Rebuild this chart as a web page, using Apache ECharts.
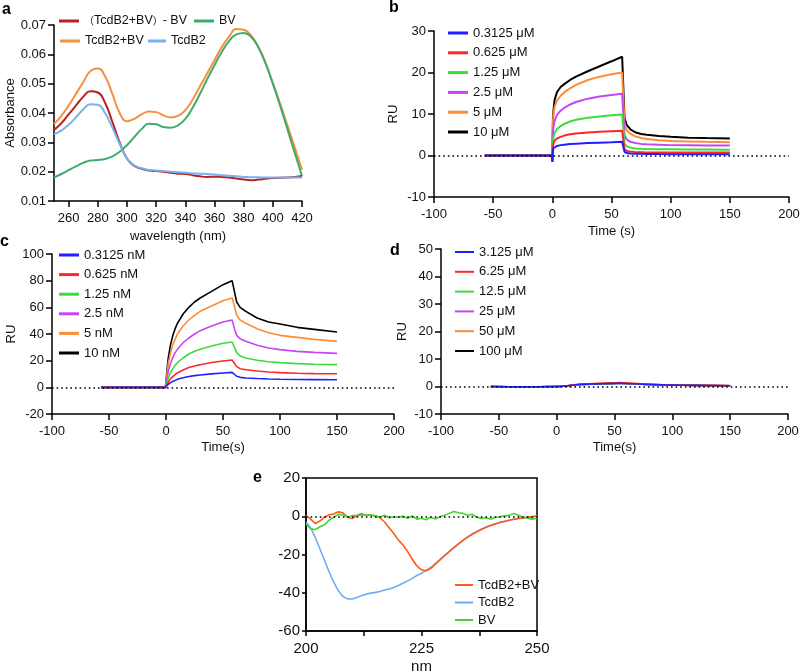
<!DOCTYPE html>
<html>
<head>
<meta charset="utf-8">
<script src="https://cdn.jsdelivr.net/npm/echarts@6/dist/echarts.min.js"></script>
<style>
    html, body { margin: 0; background: #fff; }
    #chart { width: 800px; height: 672px; }
</style>
</head>
<body>
<div id="chart"></div>
<script>
    // ---- panel a : absorbance spectra ----
    var aNm = [250,255,260,265,270,275,280,285,290,295,300,305,310,315,320,325,330,335,340,345,350,355,360,365,370,375,380,385,390,395,400,405,410,415,420];
    var aDiff = [0.0342,0.0365,0.0395,0.0425,0.0455,0.0474,0.0470,0.0435,0.0370,0.0300,0.0245,0.0220,0.0210,0.0204,0.0202,0.0200,0.0196,0.0193,0.0192,0.0188,0.0184,0.0182,0.0183,0.0182,0.0180,0.0177,0.0173,0.0171,0.0173,0.0176,0.0178,0.0179,0.0180,0.0182,0.0185];
    var aBV = [0.0180,0.0192,0.0205,0.0218,0.0230,0.0238,0.0240,0.0243,0.0252,0.0268,0.0290,0.0318,0.0345,0.0363,0.0362,0.0352,0.0350,0.0358,0.0380,0.0418,0.0465,0.0515,0.0563,0.0608,0.0645,0.0668,0.0673,0.0660,0.0625,0.0570,0.0500,0.0425,0.0345,0.0265,0.0185];
    var aMix = [0.0362,0.0390,0.0425,0.0465,0.0505,0.0543,0.0552,0.0525,0.0465,0.0400,0.0372,0.0380,0.0395,0.0405,0.0403,0.0392,0.0385,0.0390,0.0410,0.0445,0.0490,0.0535,0.0580,0.0625,0.0660,0.0686,0.0684,0.0665,0.0625,0.0570,0.0502,0.0432,0.0358,0.0283,0.0207];
    var aTcdB2 = [0.0328,0.0340,0.0360,0.0385,0.0412,0.0430,0.0428,0.0400,0.0350,0.0295,0.0245,0.0222,0.0212,0.0206,0.0204,0.0202,0.0200,0.0198,0.0196,0.0194,0.0193,0.0192,0.0190,0.0188,0.0186,0.0184,0.0182,0.0181,0.0181,0.0180,0.0180,0.0180,0.0180,0.0180,0.0180];
    var aTicks = [260,280,300,320,340,360,380,400,420];

    // ---- panel b : SPR, µM ----
    var bTime = [-57,-0.5,0,0.5,1,2,4,7,10,15,20,30,40,50,59,60,61,63,66,70,75,80,90,100,115,130,150];
    var b10  = [0,0,-1.5,9,11,13.5,15.3,16.5,17.2,18.2,19,20.3,21.5,22.7,23.8,23.8,9,7.3,6.3,5.6,5.2,5,4.7,4.5,4.3,4.2,4.1];
    var b5   = [0,0,-1.5,8,10,11.8,13.3,14.4,15.2,16.2,17,18.2,19,19.6,20,20,7.5,6,5.2,4.6,4.2,4,3.7,3.5,3.4,3.3,3.2];
    var b25  = [0,0,-1.5,5.5,7,8.5,9.8,10.8,11.5,12.3,12.9,13.7,14.2,14.6,14.9,14.9,4.8,3.8,3.3,3,2.8,2.7,2.6,2.5,2.45,2.4,2.4];
    var b125 = [0,0,-1.5,3.5,4.5,5.5,6.4,7.1,7.6,8.2,8.6,9.1,9.4,9.7,9.9,9.9,2.8,2.2,1.9,1.7,1.6,1.55,1.5,1.5,1.45,1.45,1.4];
    var b0625 = [0,0,-1.5,2.2,3,3.6,4.1,4.5,4.8,5.1,5.3,5.55,5.7,5.85,5.95,5.95,1.5,1.1,0.95,0.85,0.8,0.75,0.72,0.7,0.7,0.7,0.7];
    var b03125 = [0,0,-1.5,1.2,1.8,2.1,2.3,2.5,2.6,2.75,2.85,3,3.1,3.2,3.3,3.3,0.9,0.6,0.5,0.45,0.4,0.38,0.35,0.33,0.32,0.3,0.3];
    var bNames = ['0.3125 μM','0.625 μM','1.25 μM','2.5 μM','5 μM','10 μM'];

    // ---- panel c : SPR, nM ----
    var cTime = [-57,-0.5,0,1,2,4,6,8,10,15,20,25,30,40,50,58,59,60,62,65,70,80,90,100,115,130,150];
    var c10  = [0,0,-0.5,14,22,32,39,44,48,55,60,64,67,72,77,80,80.5,72,64,60,57,52,49,47.5,45,43.5,41.5];
    var c5   = [0,0,-0.5,11,18,26,32,36,40,46,50.5,54,57,61,65,67,67.5,61,54,50.5,48,44,41,39,37.5,36,34.5];
    var c25  = [0,0,-0.5,7,12,18,22.5,26,28.5,33.5,37,40,42.5,46,49,50.5,50.5,44,39,36.5,34.5,31.5,29.5,28.3,27,26.2,25.5];
    var c125 = [0,0,-0.5,4,7,11,14,16.5,18.5,22,25,27,28.5,31,33,34,34,30,26,23.5,22,20.3,19.2,18.5,17.8,17.3,17];
    var c0625 = [0,0,-0.5,2.5,4,6.5,8,9.5,10.8,13,14.8,16,17,18.6,19.8,20.5,20.5,18,15.5,14,13.2,12.2,11.5,11,10.6,10.3,10.2];
    var c03125 = [0,0,-0.5,1.5,2.3,3.5,4.5,5.2,6,7.2,8.1,8.8,9.3,10.1,10.7,11.2,11.2,9.8,8.3,7.5,7,6.6,6.3,6.1,5.9,5.8,5.7];
    var cNames = ['0.3125 nM','0.625 nM','1.25 nM','2.5 nM','5 nM','10 nM'];

    // ---- panel d : SPR, no binding ----
    var dTime = [-57,-30,0,5,10,20,30,40,50,55,60,70,80,90,100,120,150];
    var d100 = [0,-0.1,0,0.1,0.3,0.7,0.95,1.05,1.15,1.2,1.15,0.95,0.75,0.6,0.5,0.4,0.3];
    var d50  = [0,-0.1,0,0.1,0.3,0.7,0.95,1.05,1.15,1.2,1.15,0.95,0.75,0.6,0.5,0.4,0.3];
    var d25  = [0,-0.1,0,0.1,0.3,0.7,0.9,1.0,1.1,1.15,1.1,0.9,0.7,0.6,0.5,0.4,0.3];
    var d125 = [0,-0.1,0,0.1,0.3,0.7,0.9,1.0,1.1,1.15,1.1,0.9,0.7,0.6,0.5,0.4,0.3];
    var d625 = [0,-0.1,0,0.1,0.35,0.8,1.05,1.2,1.35,1.4,1.3,1.05,0.8,0.65,0.55,0.45,0.35];
    var d3125 = [0,-0.1,0,0.1,0.3,0.7,0.9,1.0,1.1,1.15,1.1,0.9,0.7,0.6,0.5,0.4,0.3];
    var dNames = ['3.125 μM','6.25 μM','12.5 μM','25 μM','50 μM','100 μM'];

    // ---- panel e : CD spectra ----
    var eNm = [200,201,202,203,204,205,206,207,208,209,210,211,212,213,214,215,216,217,218,219,220,221,222,223,224,225,226,227,228,229,230,231,232,233,234,235,236,237,238,239,240,241,242,243,244,245,246,247,248,249,250];
    var eMix = [0.5,-1.5,-3.8,-2.5,-0.5,0.8,1.2,2.3,1.8,-0.5,-1.2,0.3,0.8,0.5,0.7,0.2,-0.8,-3,-6,-9,-12.5,-15,-18.5,-22.5,-26,-28,-28.5,-27.3,-25,-22.8,-20.6,-18.5,-16.4,-14.4,-12.6,-10.9,-9.4,-8.1,-6.9,-5.8,-4.9,-4,-3.3,-2.7,-2.1,-1.6,-1.2,-0.8,-0.5,-0.2,0.1];
    var eTcdB2 = [-3,-6,-11,-17,-23,-29,-34.5,-39,-42,-43.2,-43.3,-42.5,-41.5,-40.8,-40.2,-39.8,-39.3,-38.6,-38,-37.2,-36.2,-35,-33.8,-32.5,-31,-29.8,-28.3,-26.8,-24.8,-22.7,-20.6,-18.5,-16.4,-14.4,-12.5,-10.8,-9.2,-7.9,-6.7,-5.6,-4.7,-3.9,-3.2,-2.6,-2.1,-1.6,-1.2,-0.9,-0.6,-0.3,0];
    var eBV = [-4,-6.5,-7,-5.5,-4.5,-2,-0.5,1,0.8,-0.5,0.3,0.5,1.5,0.5,0.8,0.2,-0.5,0.5,-0.8,-0.3,-0.5,0,-1,0.2,-1.5,-1,-1.8,-0.5,-1.5,-0.3,0.5,1.5,2.5,1.8,1.5,0.5,1,-0.5,-1.2,-0.8,-1.5,-0.5,-0.3,0.2,0.5,1.5,0.5,-0.5,-1,-1.5,-1];
    var eXTicks = [200,212.5,225,237.5,250];
    var eXLabels = [200,225,250];

    var FONT = 'Liberation Sans, Arial, Noto Sans CJK SC, sans-serif';
    var sprColors = ['#1f1fff','#ff2626','#3cdc3c','#c646f5','#ff8c33','#000000'];
    var eColors = {'TcdB2+BV ': '#ff5a1a', 'TcdB2 ': '#6fadf2', 'BV ': '#44d42e'};

    var myChart = echarts.init(document.getElementById('chart'));

    function pairs(xs, ys) {
        return xs.map(function (x, i) { return [x, ys[i]]; });
    }

    function line(name, xs, ys, color, idx, width, smooth) {
        return {
            name: name, type: 'line', xAxisIndex: idx, yAxisIndex: idx,
            data: pairs(xs, ys), showSymbol: false, symbol: 'none',
            smooth: smooth || false,
            lineStyle: {color: color, width: width},
            itemStyle: {color: color},
            emphasis: {disabled: true}
        };
    }

    var zeroLine = {
        silent: true, symbol: 'none', label: {show: false},
        lineStyle: {type: [1.6, 3], color: '#000', width: 1.6},
        data: [{yAxis: 0}]
    };

    function axis(idx, min, max, interval, name, gap, extra) {
        var o = {
            type: 'value', gridIndex: idx, min: min, max: max, interval: interval,
            name: name, nameLocation: 'middle', nameGap: gap,
            nameTextStyle: {fontSize: 13, color: '#111', fontFamily: FONT},
            axisLine: {show: true, onZero: false, lineStyle: {color: '#000', width: 1.5}},
            axisTick: {show: true, length: 6, lineStyle: {color: '#000', width: 1.5}},
            axisLabel: {fontSize: 13, color: '#111', fontFamily: FONT},
            splitLine: {show: false}
        };
        for (var k in extra) o[k] = extra[k];
        return o;
    }

    function legend(names, left, top, gap, w, h, orient, extraText) {
        var ts = {fontSize: 13, color: '#111', fontFamily: FONT, lineHeight: 14};
        for (var k in extraText) ts[k] = extraText[k];
        return {
            data: names, left: left, top: top, orient: orient || 'vertical', padding: 0,
            itemGap: gap, itemWidth: w, itemHeight: h, icon: 'rect',
            selectedMode: false, textStyle: ts
        };
    }

    var series = [];
    // a
    series.push(line('TcdB2+BV', aNm, aMix, '#f5913e', 0, 2, 0.5));
    series.push(line('BV', aNm, aBV, '#3fab6c', 0, 2, 0.5));
    series.push(line('（TcdB2+BV）- BV', aNm, aDiff, '#b82222', 0, 2, 0.5));
    series.push(line('TcdB2', aNm, aTcdB2, '#74b2f0', 0, 2, 0.5));

    // b (drawn black first so blue ends on top)
    var bVals = [b03125, b0625, b125, b25, b5, b10];
    for (var i = 5; i >= 0; i--) series.push(line(bNames[i], bTime, bVals[i], sprColors[i], 1, 2));
    // c
    var cVals = [c03125, c0625, c125, c25, c5, c10];
    for (i = 5; i >= 0; i--) series.push(line(cNames[i], cTime, cVals[i], sprColors[i], 2, 1.6));
    // d
    var dVals = [d3125, d625, d125, d25, d50, d100];
    for (i = 5; i >= 0; i--) series.push(line(dNames[i], dTime, dVals[i], sprColors[i], 3, 1.6, 0.4));
    // e (names carry a trailing space so the legend does not pick panel a colours)
    series.push(line('TcdB2 ', eNm, eTcdB2, eColors['TcdB2 '], 4, 1.6));
    series.push(line('TcdB2+BV ', eNm, eMix, eColors['TcdB2+BV '], 4, 1.6));
    series.push(line('BV ', eNm, eBV, eColors['BV '], 4, 1.6));

    // dotted baselines
    for (i = 1; i <= 4; i++) {
        series.push({type: 'line', xAxisIndex: i, yAxisIndex: i, data: [], markLine: zeroLine});
    }

    var xLab = {fontSize: 13, color: '#111', fontFamily: FONT, margin: 11};

    var option = {
        backgroundColor: '#fff',
        animation: false,
        textStyle: {fontFamily: FONT},
        grid: [
            {left: 54, top: 25, width: 248, height: 176, outerBoundsMode: 'none'},
            {left: 434, top: 31, width: 355, height: 166, outerBoundsMode: 'none'},
            {left: 52, top: 254, width: 342, height: 160, outerBoundsMode: 'none'},
            {left: 441, top: 249, width: 347, height: 165, outerBoundsMode: 'none'},
            {left: 306, top: 478, width: 231, height: 153, outerBoundsMode: 'none',
                show: true, borderColor: '#000', borderWidth: 1.5}
        ],
        xAxis: [
            axis(0, 250, 420, 20, 'wavelength (nm)', 29, {
                axisTick: {show: true, length: 6, customValues: aTicks, lineStyle: {color: '#000', width: 1.5}},
                axisLabel: {fontSize: 13, color: '#111', fontFamily: FONT, margin: 11, customValues: aTicks}
            }),
            axis(1, -100, 200, 50, 'Time (s)', 28, {axisLabel: xLab}),
            axis(2, -100, 200, 50, 'Time(s)', 27, {axisLabel: xLab}),
            axis(3, -100, 200, 50, 'Time(s)', 27, {axisLabel: xLab}),
            axis(4, 200, 250, 12.5, 'nm', 28, {
                nameTextStyle: {fontSize: 15, color: '#111', fontFamily: FONT},
                axisTick: {show: true, length: 5, customValues: eXTicks, lineStyle: {color: '#000', width: 1.5}},
                axisLabel: {fontSize: 15, color: '#111', fontFamily: FONT, margin: 10, customValues: eXLabels}
            })
        ],
        yAxis: [
            axis(0, 0.01, 0.07, 0.01, 'Absorbance', 34, {
                axisLabel: {fontSize: 13, color: '#111', fontFamily: FONT, formatter: function (v) { return v.toFixed(2); }}
            }),
            axis(1, -10, 30, 10, 'RU', 34),
            axis(2, -20, 100, 20, 'RU', 33),
            axis(3, -10, 50, 10, 'RU', 32),
            axis(4, -60, 20, 20, '', 30, {
                axisTick: {show: true, length: 4, lineStyle: {color: '#000', width: 1.5}},
                axisLabel: {fontSize: 15, color: '#111', fontFamily: FONT, margin: 6}
            })
        ],
        legend: [
            legend(['（TcdB2+BV）- BV'], 59, 14, 0, 20, 3, 'horizontal', {
                fontSize: 12.5,
                rich: {p: {fontSize: 10, fontFamily: 'Noto Sans CJK SC', color: '#111'}}
            }),
            legend(['BV'], 194, 14, 0, 20, 3, 'horizontal', {fontSize: 12.5}),
            legend(['TcdB2+BV'], 60, 34, 0, 20, 3, 'horizontal', {fontSize: 12.5}),
            legend(['TcdB2'], 148, 34, 0, 18, 3, 'horizontal', {fontSize: 12.5}),
            legend(bNames, 448, 26, 5.8, 20, 3),
            legend(cNames, 59, 248, 5.6, 20, 3),
            legend(dNames, 455, 245, 5.8, 19, 2),
            legend(['TcdB2+BV ', 'TcdB2 ', 'BV '], 455, 578, 3.5, 18, 2)
        ],
        graphic: [
            {type: 'text', left: 2, top: 2, style: {text: 'a', font: 'bold 16px ' + FONT, fill: '#000'}},
            {type: 'text', left: 389, top: 0, style: {text: 'b', font: 'bold 16px ' + FONT, fill: '#000'}},
            {type: 'text', left: 0, top: 234, style: {text: 'c', font: 'bold 16px ' + FONT, fill: '#000'}},
            {type: 'text', left: 390, top: 243, style: {text: 'd', font: 'bold 16px ' + FONT, fill: '#000'}},
            {type: 'text', left: 253, top: 470, style: {text: 'e', font: 'bold 16px ' + FONT, fill: '#000'}}
        ],
        series: series
    };

    // squeeze the full-width brackets of the first legend entry like the original figure
    option.legend[0].formatter = function (name) {
        return name.replace('（', '{p|（}').replace('）', '{p|）}');
    };

    myChart.setOption(option);
</script>
</body>
</html>
